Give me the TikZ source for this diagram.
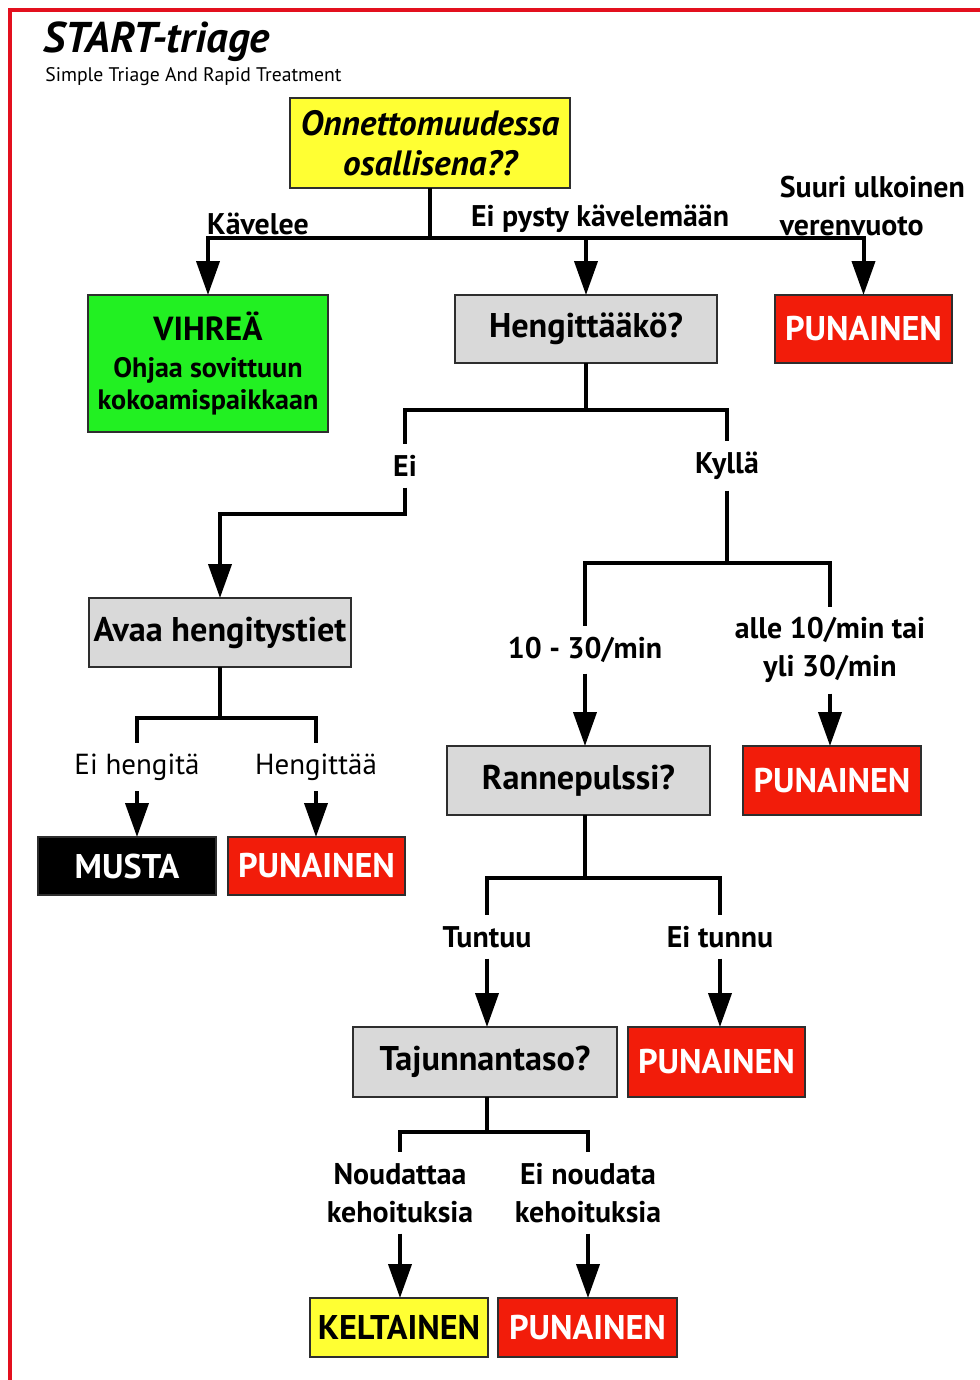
\documentclass[tikz,border=0pt]{standalone}
\usepackage{fontspec}
\setmainfont{PT Sans}
\usepackage{xcolor}
\usepackage{tikz}
\usetikzlibrary{arrows.meta,positioning,calc}
\definecolor{trframe}{HTML}{E3101E}
\definecolor{trline}{HTML}{2E2E2E}
\definecolor{trgray}{HTML}{D9D9D9}
\definecolor{trred}{HTML}{F21C0A}
\definecolor{trgreen}{HTML}{22F022}
\definecolor{tryellow}{HTML}{FFFF33}
\tikzset{
  box/.style={draw=trline, line width=0.04cm, inner sep=0pt, outer sep=0pt, align=center,
              font=\fontsize{19.5}{23}\selectfont\bfseries},
  sz/.style 2 args={minimum width=#1*0.02cm, minimum height=#2*0.02cm},
  ask/.style={box, fill=trgray},
  punainen/.style={box, fill=trred, text=white},
  lbl/.style={font=\fontsize{17}{21.5}\selectfont\bfseries, align=center, inner xsep=2pt, inner ysep=6pt},
  thin/.style={lbl, font=\fontsize{16.5}{21.5}\selectfont},
  wire/.style={draw=black, line width=0.08cm},
  arr/.style={wire, -{Triangle[length=0.68cm, width=0.46cm]}},
}

\begin{document}
\begin{tikzpicture}[x=0.02cm, y=-0.02cm]
  \useasboundingbox (0,0) rectangle (980,1380);
  \draw[trframe, line width=0.08cm] (10,1380) -- (10,10) -- (980,10);

  \node[anchor=west, inner sep=0pt, font=\fontsize{24.5}{28}\selectfont\bfseries\itshape] (title) at (43,42) {START-triage};
  \node[anchor=west, inner sep=0pt, font=\fontsize{11.2}{13}\selectfont] (subtitle) at (45,77) {Simple Triage And Rapid Treatment};

  \node[box, sz={280}{90}, fill=tryellow, font=\fontsize{20}{22.7}\selectfont\bfseries\itshape] (q0) at (430,143)
    {Onnettomuudessa\\osallisena??};
  \node[box, sz={240}{137}, fill=trgreen, font=\fontsize{16}{18}\selectfont\bfseries] (green) at (208,363.5)
    {{\fontsize{19}{21}\selectfont VIHREÄ}\\[3pt]Ohjaa sovittuun\\kokoamispaikkaan};
  \node[ask, sz={262}{68}] (heng) at (586,329) {Hengittääkö?};
  \node[punainen, sz={177}{68}] (red1) at (863.5,329) {PUNAINEN};

  \node[ask, sz={262}{69}] (avaa) at (220,632.5) {Avaa hengitystiet};
  \node[box, sz={178}{58}, fill=black, text=white] (musta) at (127,866) {MUSTA};
  \node[punainen, sz={177}{58}] (red2) at (316.5,866) {PUNAINEN};

  \node[ask, sz={263}{69}] (ranne) at (578.5,780.5) {Rannepulssi?};
  \node[punainen, sz={178}{69}] (red3) at (832,780.5) {PUNAINEN};

  \node[ask, sz={264}{70}] (taju) at (485,1062) {Tajunnantaso?};
  \node[punainen, sz={177}{70}] (red4) at (716.5,1062) {PUNAINEN};

  \node[box, sz={178}{59}, fill=tryellow] (kelt) at (399,1327.5) {KELTAINEN};
  \node[punainen, sz={179}{59}] (red5) at (587.5,1327.5) {PUNAINEN};

  \node[lbl] (kav) at (258,224) {Kävelee};
  \node[lbl] (eipysty) at (600,219) {Ei pysty kävelemään};
  \node[lbl, anchor=west, align=left] (suuri) at (776,206) {Suuri ulkoinen\\verenvuoto};
  \node[lbl] (ei) at (405,466) {Ei};
  \node[lbl] (kylla) at (727,466) {Kyllä};
  \node[lbl] (r1030) at (585,650) {10 - 30/min};
  \node[lbl] (ralle) at (830,650) {alle 10/min tai\\yli 30/min};
  \node[thin] (eiheng) at (137,767) {Ei hengitä};
  \node[thin] (hengit) at (316,767) {Hengittää};
  \node[lbl] (tuntuu) at (487,937) {Tuntuu};
  \node[lbl] (eitunnu) at (720,937) {Ei tunnu};
  \node[lbl] (noud) at (400,1193) {Noudattaa\\kehoituksia};
  \node[lbl] (einoud) at (588,1193) {Ei noudata\\kehoituksia};

  \coordinate (j0) at (430,238);
  \coordinate (j1) at (586,410);
  \coordinate (j2) at (727,563);
  \coordinate (j3) at (220,718);
  \coordinate (j4) at (585,878);
  \coordinate (j5) at (487,1132);

  \draw[wire] (q0) -- (j0);
  \draw[arr] (j0) -| (green);
  \draw[arr] (j0) -| (red1);
  \draw[arr] (j0 -| heng) -- (heng);

  \draw[wire] (heng) -- (j1);
  \draw[wire] (j1) -| (ei);
  \draw[wire] (j1) -| (kylla);
  \draw[arr] (ei.south) -- ++(0,26) -| (avaa);
  \draw[wire] (kylla) -- (j2);
  \draw[wire] (j2) -| (r1030);
  \draw[wire] (j2) -| (ralle);
  \draw[arr] (r1030.south) -- (r1030.south |- ranne.north);
  \draw[arr] (ralle.south) -- (ralle.south |- red3.north);

  \draw[wire] (avaa) -- (j3);
  \draw[wire] (j3) -| (eiheng);
  \draw[wire] (j3) -| (hengit);
  \draw[arr] (eiheng.south) -- (eiheng.south |- musta.north);
  \draw[arr] (hengit.south) -- (hengit.south |- red2.north);

  \draw[wire] (j4 |- ranne.south) -- (j4);
  \draw[wire] (j4) -| (tuntuu);
  \draw[wire] (j4) -| (eitunnu);
  \draw[arr] (tuntuu.south) -- (tuntuu.south |- taju.north);
  \draw[arr] (eitunnu.south) -- (eitunnu.south |- red4.north);

  \draw[wire] (j5 |- taju.south) -- (j5);
  \draw[wire] (j5) -| (noud);
  \draw[wire] (j5) -| (einoud);
  \draw[arr] (noud.south) -- (noud.south |- kelt.north);
  \draw[arr] (einoud.south) -- (einoud.south |- red5.north);
\end{tikzpicture}
\end{document}
